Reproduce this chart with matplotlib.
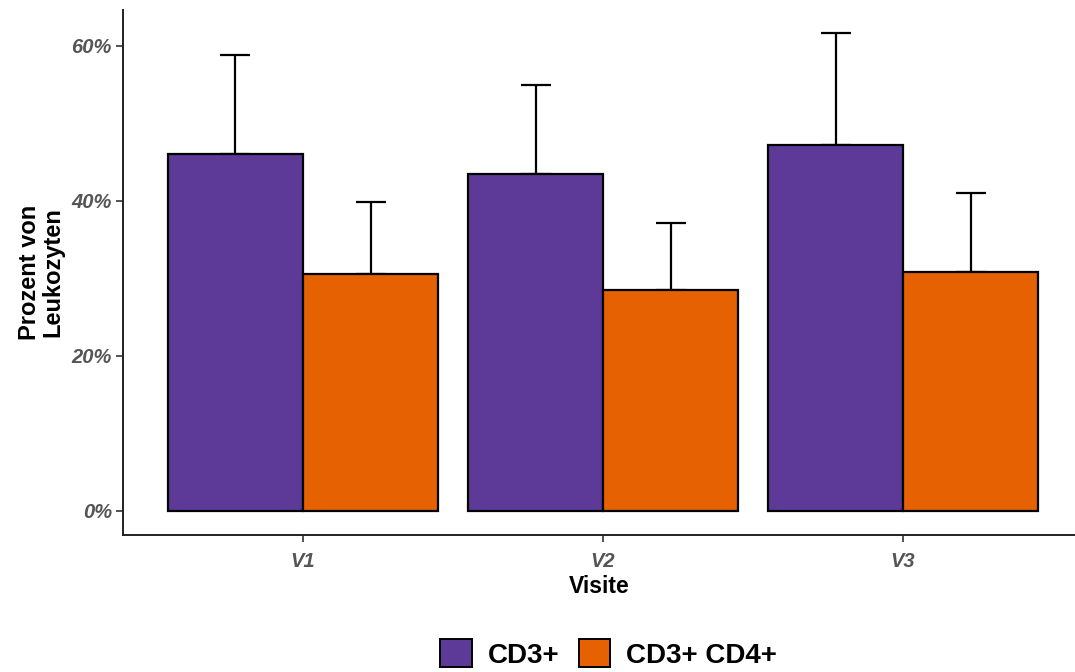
import matplotlib
matplotlib.use("Agg")
import matplotlib.pyplot as plt
from matplotlib.patches import Patch
from matplotlib.ticker import FuncFormatter
import numpy as np

visits = ["V1", "V2", "V3"]
groups = ["CD3+", "CD3+ CD4+"]
mean_cd3 = [46.0, 43.4, 47.2]
upper_cd3 = [58.8, 55.0, 61.7]
mean_cd4 = [30.6, 28.5, 30.8]
upper_cd4 = [39.9, 37.1, 41.0]
colors = ["#5e3a98", "#e66101"]

plt.rcParams["font.family"] = ["Liberation Sans", "DejaVu Sans"]

fig = plt.figure(figsize=(10.75, 6.72), dpi=100)
ax = fig.add_axes([0.1144, 0.2039, 0.8856, 0.7811])

x = np.arange(1, len(visits) + 1)
w = 0.45
series = [(mean_cd3, upper_cd3), (mean_cd4, upper_cd4)]
for i, (m, up) in enumerate(series):
    m = np.array(m)
    up = np.array(up)
    xs = x + (i - 0.5) * w
    ax.errorbar(xs, m, yerr=[np.zeros_like(m), up - m], fmt="none",
                ecolor="black", elinewidth=1.6, capsize=10.5, capthick=1.6, zorder=1)
    ax.bar(xs, m, width=w, color=colors[i], edgecolor="black", linewidth=1.6, zorder=2)

ax.set_xlim(0.4, 3.573)
ax.set_ylim(-3.1, 64.6)
ax.set_xticks(x)
ax.set_xticklabels(visits)
ax.set_yticks([0, 20, 40, 60])
ax.yaxis.set_major_formatter(FuncFormatter(lambda v, p: f"{v:.0f}%"))

for s in ["top", "right"]:
    ax.spines[s].set_visible(False)
for s in ["left", "bottom"]:
    ax.spines[s].set_linewidth(1.4)
    ax.spines[s].set_color("#222222")

ax.tick_params(axis="both", length=5, width=1.2, color="#333333", labelcolor="#555555",
               labelsize=14.5)
ax.tick_params(axis="y", pad=3)
ax.tick_params(axis="x", pad=7)
for lab in ax.get_yticklabels() + ax.get_xticklabels():
    lab.set_fontstyle("italic")
    lab.set_fontweight("bold")

ax.set_xlabel("Visite", fontsize=16.5, fontweight="bold", labelpad=3)
ax.set_ylabel("Prozent von\nLeukozyten", fontsize=17, fontweight="bold",
              labelpad=5, linespacing=1.05)

handles = [Patch(facecolor=c, edgecolor="black", linewidth=1.4) for c in colors]
fig.legend(handles, groups, loc="lower center", bbox_to_anchor=(0.566, -0.032), ncol=2,
           frameon=False, prop={"size": 20, "weight": "bold"},
           handlelength=1.15, handleheight=1.15, handletextpad=0.55, columnspacing=0.7)

fig.savefig("out.png", dpi=100)
